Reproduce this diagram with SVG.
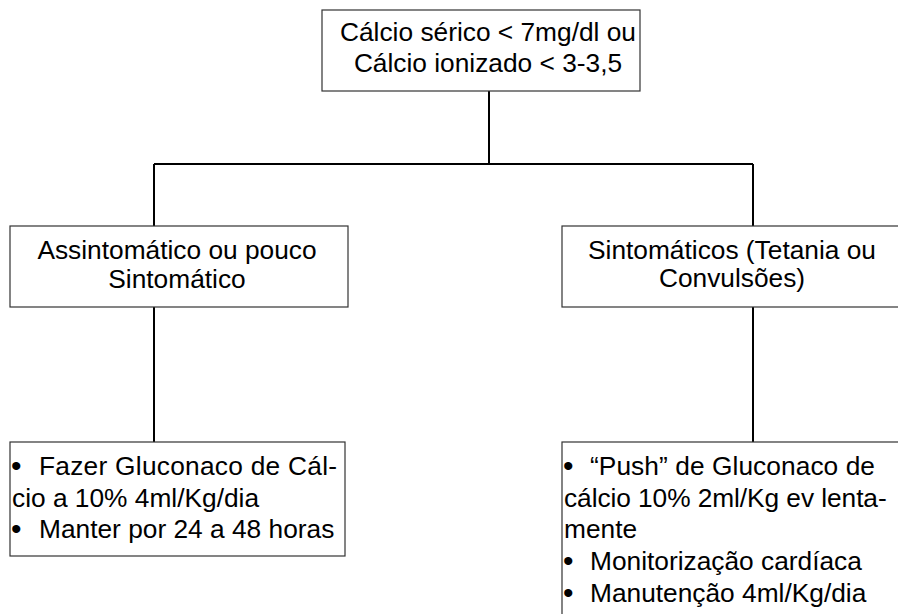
<svg xmlns="http://www.w3.org/2000/svg" width="898" height="614" viewBox="0 0 898 614">
<style>
.box{fill:#fff;stroke:#333;stroke-width:1.2}
.ln{fill:none;stroke:#000;stroke-width:2}
text{font-family:"Liberation Sans",Arial,sans-serif;font-size:26.3px;fill:#000}
.c{text-anchor:middle}
.b{font-size:30px}
</style>
<rect width="898" height="614" fill="#fff"/>
<g id="connectors">
<path class="ln" d="M489,91 V164 M154,164 H753 M154,164 V226 M753,164 V226 M154,307 V442 M753,307 V442"/>
</g>
<g id="top">
<rect class="box" x="322" y="10" width="318" height="81"/>
<text class="c" x="488" y="41">Cálcio sérico &lt; 7mg/dl ou</text>
<text class="c" x="488" y="72">Cálcio ionizado &lt; 3-3,5</text>
</g>
<g id="left">
<rect class="box" x="10" y="226" width="338" height="81"/>
<text class="c" x="177" y="259">Assintomático ou pouco</text>
<text class="c" x="177" y="287.5">Sintomático</text>
</g>
<g id="right">
<rect class="box" x="562" y="226" width="340" height="81"/>
<text class="c" x="732" y="258.5">Sintomáticos (Tetania ou</text>
<text class="c" x="732" y="287">Convulsões)</text>
</g>
<g id="leftTreatment">
<rect class="box" x="10" y="442" width="335" height="114"/>
<text class="b" x="11" y="476">•</text>
<text x="39" y="475" textLength="298" lengthAdjust="spacing">Fazer Gluconaco de Cál-</text>
<text x="12" y="506.7">cio a 10% 4ml/Kg/dia</text>
<text class="b" x="11" y="539.3">•</text>
<text x="39" y="538.3">Manter por 24 a 48 horas</text>
</g>
<g id="rightTreatment">
<rect class="box" x="562" y="442" width="340" height="200"/>
<text class="b" x="563" y="476">•</text>
<text x="590" y="475" textLength="285" lengthAdjust="spacing">“Push” de Gluconaco de</text>
<text x="564" y="506.7" textLength="322.7" lengthAdjust="spacing">cálcio 10% 2ml/Kg ev lenta-</text>
<text x="564" y="538.3">mente</text>
<text class="b" x="563" y="571">•</text>
<text x="590" y="570">Monitorização cardíaca</text>
<text class="b" x="563" y="602.7">•</text>
<text x="590" y="601.7">Manutenção 4ml/Kg/dia</text>
</g>
</svg>
